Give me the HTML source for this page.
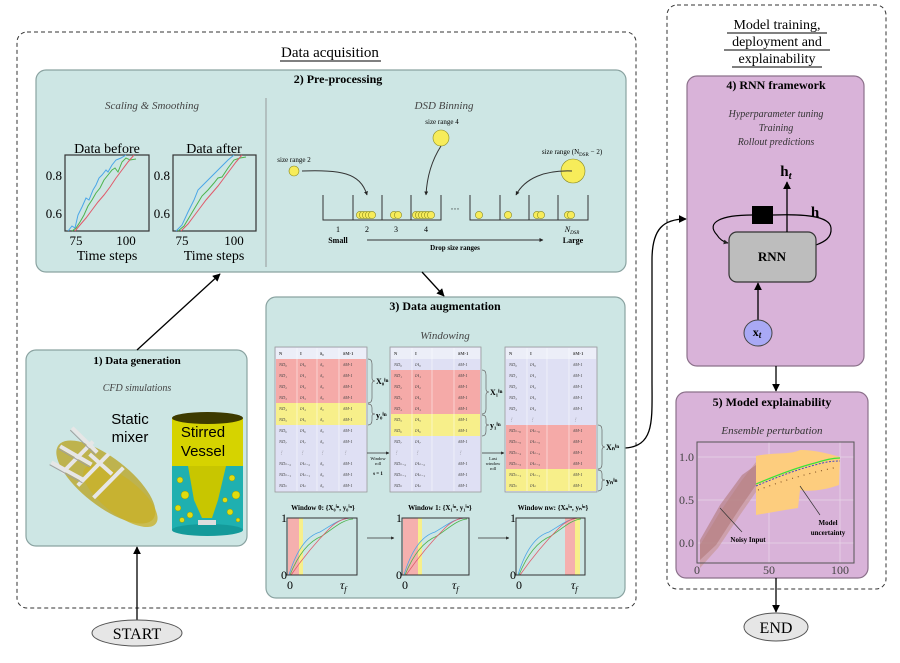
<!DOCTYPE html>
<html><head><meta charset="utf-8"><style>
html,body{margin:0;padding:0;background:#fff;}
svg{display:block;font-family:"Liberation Serif",serif;}
.b{font-weight:bold;}
.i{font-style:italic;}
</style></head><body>
<svg width="900" height="663" viewBox="0 0 900 663" xmlns="http://www.w3.org/2000/svg">
<defs>
<marker id="ar" viewBox="0 0 10 10" refX="9" refY="5" markerWidth="6" markerHeight="6" orient="auto-start-reverse"><path d="M0,0 L10,5 L0,10 z" fill="#000"/></marker>
<marker id="as" viewBox="0 0 10 10" refX="9" refY="5" markerWidth="4" markerHeight="4" orient="auto"><path d="M0,0 L10,5 L0,10 z" fill="#222"/></marker>
</defs>

<rect x="17" y="32" width="619" height="576" rx="10" fill="none" stroke="#333" stroke-width="1" stroke-dasharray="4,3"/>
<rect x="667" y="5" width="219" height="584" rx="10" fill="none" stroke="#333" stroke-width="1" stroke-dasharray="4,3"/>

<text x="330" y="57" font-size="15" text-anchor="middle">Data acquisition</text>
<line x1="280" y1="61" x2="381" y2="61" stroke="#000" stroke-width="1"/>

<text x="777" y="29" font-size="14" text-anchor="middle">Model training,</text>
<line x1="727" y1="33" x2="827" y2="33" stroke="#000"/>
<text x="777" y="46" font-size="14" text-anchor="middle">deployment and</text>
<line x1="724" y1="50" x2="830" y2="50" stroke="#000"/>
<text x="777" y="63" font-size="14" text-anchor="middle">explainability</text>
<line x1="732" y1="67" x2="822" y2="67" stroke="#000"/>

<!-- Pre-processing -->
<rect x="36" y="70" width="590" height="202" rx="10" fill="#cde6e4" stroke="#8aa3a1" stroke-width="1.2"/>
<text x="338" y="83" font-size="12" class="b" text-anchor="middle">2) Pre-processing</text>
<line x1="266" y1="98" x2="266" y2="267" stroke="#888" stroke-width="0.8"/>
<text x="152" y="109" font-size="11" class="i" text-anchor="middle" fill="#444">Scaling &amp; Smoothing</text>
<text x="444" y="109" font-size="11" class="i" text-anchor="middle" fill="#444">DSD Binning</text>

<text x="107" y="153" font-size="14" text-anchor="middle">Data before</text>
<rect x="65" y="155" width="84" height="76" fill="none" stroke="#333" stroke-width="1.2"/>
<path d="M68,231 L72,226 L75,228 L78,215 L82,207 L86,198 L89,200 L93,190 L96,185 L99,178 L102,175 L106,170 L108,172 L112,165 L116,160 L121,158 L126,155" fill="none" stroke="#4aa6e8" stroke-width="1"/>
<path d="M72,231 L76,228 L80,222 L84,215 L88,206 L92,200 L96,193 L100,188 L104,180 L108,175 L112,170 L115,168 L118,172 L122,162 L126,158 L130,160 L136,159" fill="none" stroke="#4db34d" stroke-width="1"/>
<path d="M75,231 L80,225 L86,218 L92,210 L98,202 L104,195 L110,187 L116,178 L122,170 L128,162 L134,155" fill="none" stroke="#e05a6a" stroke-width="1"/>
<text x="62" y="180" font-size="13" text-anchor="end">0.8</text>
<text x="62" y="218" font-size="13" text-anchor="end">0.6</text>
<text x="76" y="245" font-size="13" text-anchor="middle">75</text>
<text x="126" y="245" font-size="13" text-anchor="middle">100</text>
<text x="107" y="260" font-size="14" text-anchor="middle">Time steps</text>
<text x="214" y="153" font-size="14" text-anchor="middle">Data after</text>
<rect x="173" y="155" width="83" height="76" fill="none" stroke="#333" stroke-width="1.2"/>
<path d="M176,231 L182,225 L188,212 L194,200 L198,190 L204,184 L210,178 L216,172 L222,166 L228,160 L234,155" fill="none" stroke="#4aa6e8" stroke-width="1"/>
<path d="M178,231 L184,226 L190,216 L196,206 L202,196 L208,190 L214,183 L218,178 L222,177 L228,168 L234,160 L240,158 L246,157" fill="none" stroke="#4db34d" stroke-width="1"/>
<path d="M181,231 L188,224 L194,216 L200,208 L206,200 L212,193 L218,186 L224,178 L230,170 L236,162 L242,155" fill="none" stroke="#e05a6a" stroke-width="1"/>
<text x="170" y="180" font-size="13" text-anchor="end">0.8</text>
<text x="170" y="218" font-size="13" text-anchor="end">0.6</text>
<text x="182" y="245" font-size="13" text-anchor="middle">75</text>
<text x="234" y="245" font-size="13" text-anchor="middle">100</text>
<text x="214" y="260" font-size="14" text-anchor="middle">Time steps</text>

<g stroke="#333" stroke-width="1" fill="none">
<path d="M323,195 V220 H441 V195 M353,195 V220 M382,195 V220 M411,195 V220"/>
<path d="M470,195 V220 H588 V195 M500,195 V220 M529,195 V220 M558,195 V220"/>
</g>
<text x="455" y="212" font-size="9" text-anchor="middle">···</text>
<g fill="#f7ec5a" stroke="#8a8a20" stroke-width="0.6">
<circle cx="360" cy="215" r="3.6"/><circle cx="363" cy="215" r="3.6"/><circle cx="366" cy="215" r="3.6"/><circle cx="369" cy="215" r="3.6"/><circle cx="372" cy="215" r="3.6"/>
<circle cx="394" cy="215" r="3.6"/><circle cx="398" cy="215" r="3.6"/>
<circle cx="416" cy="215" r="3.6"/><circle cx="419" cy="215" r="3.6"/><circle cx="422" cy="215" r="3.6"/><circle cx="425" cy="215" r="3.6"/><circle cx="428" cy="215" r="3.6"/><circle cx="431" cy="215" r="3.6"/>
<circle cx="479" cy="215" r="3.6"/><circle cx="508" cy="215" r="3.6"/>
<circle cx="537" cy="215" r="3.6"/><circle cx="541" cy="215" r="3.6"/>
<circle cx="568" cy="215" r="3.6"/><circle cx="571" cy="215" r="3.6"/>
<circle cx="294" cy="171" r="5"/>
<circle cx="441" cy="138" r="8"/>
<circle cx="573" cy="171" r="12"/>
</g>
<text x="294" y="162" font-size="7" text-anchor="middle">size range 2</text>
<text x="442" y="124" font-size="7" text-anchor="middle">size range 4</text>
<text x="572" y="154" font-size="7" text-anchor="middle">size range (N<tspan font-size="5" dy="2">DSR</tspan><tspan dy="-2"> − 2)</tspan></text>
<g fill="none" stroke="#333" stroke-width="1" marker-end="url(#as)">
<path d="M302,171 C340,170 360,172 367,195"/>
<path d="M441,146 C432,160 427,175 426,195"/>
<path d="M572,171 C545,170 525,178 516,195"/>
</g>
<g font-size="8" text-anchor="middle">
<text x="338" y="232">1</text><text x="367" y="232">2</text><text x="396" y="232">3</text><text x="426" y="232">4</text>
<text x="572" y="232" class="i">N<tspan font-size="5" dy="2">DSR</tspan></text>
<text x="338" y="243" class="b">Small</text><text x="573" y="243" class="b">Large</text>
<text x="455" y="250" class="b" font-size="7">Drop size ranges</text>
</g>
<line x1="367" y1="240" x2="543" y2="240" stroke="#333" marker-end="url(#as)"/>

<!-- Data generation -->
<rect x="26" y="350" width="221" height="196" rx="10" fill="#cde6e4" stroke="#8aa3a1" stroke-width="1.2"/>
<text x="137" y="364" font-size="11" class="b" text-anchor="middle">1) Data generation</text>
<text x="137" y="391" font-size="10" class="i" text-anchor="middle" fill="#444">CFD simulations</text>
<g transform="rotate(38 105 475)">
<ellipse cx="110" cy="480" rx="60" ry="24" fill="#b8a21c" opacity="0.75"/>
<ellipse cx="130" cy="482" rx="45" ry="18" fill="#c9b22a" opacity="0.8"/>
<g stroke="#e6e6e6" stroke-width="4" fill="none">
<path d="M50,458 L85,462 M52,480 L88,475 M55,498 L92,492 M75,456 L70,500 M95,456 L90,500 M115,458 L110,500 M80,468 L110,470"/>
</g>
<g stroke="#a0a0a0" stroke-width="1" fill="none">
<path d="M50,461 L85,465 M52,483 L88,478 M55,501 L92,495"/>
</g>
</g>
<text x="130" y="424" font-size="15" font-family="Liberation Sans, sans-serif" text-anchor="middle">Static</text>
<text x="130" y="442" font-size="15" font-family="Liberation Sans, sans-serif" text-anchor="middle">mixer</text>
<rect x="172" y="418" width="71" height="112" fill="#d6d300"/>
<rect x="172" y="466" width="71" height="64" fill="#1fb0b0"/>
<path d="M188,466 L194,500 L202,518 L212,518 L218,500 L226,466 z" fill="#c8c600"/>
<g fill="#e0dc10" stroke="#8a8a00" stroke-width="0.4">
<circle cx="180" cy="480" r="3"/><circle cx="185" cy="495" r="4"/><circle cx="178" cy="508" r="3"/><circle cx="232" cy="478" r="3"/><circle cx="236" cy="495" r="4"/><circle cx="230" cy="512" r="3"/><circle cx="190" cy="515" r="3"/><circle cx="225" cy="500" r="2.5"/><circle cx="182" cy="520" r="2.5"/><circle cx="238" cy="520" r="2"/>
</g>
<ellipse cx="207.5" cy="418" rx="35.5" ry="6" fill="#3d3a00"/>
<ellipse cx="207.5" cy="530" rx="35.5" ry="6" fill="#149a9a"/>
<rect x="198" y="520" width="18" height="5" fill="#ddd"/>
<text x="203" y="437" font-size="15" font-family="Liberation Sans, sans-serif" text-anchor="middle">Stirred</text>
<text x="203" y="456" font-size="15" font-family="Liberation Sans, sans-serif" text-anchor="middle">Vessel</text>

<line x1="137" y1="620" x2="137" y2="547" stroke="#000" stroke-width="1.3" marker-end="url(#ar)"/>
<ellipse cx="137" cy="633" rx="45" ry="13" fill="#e6e6e6" stroke="#555"/>
<text x="137" y="639" font-size="16" text-anchor="middle">START</text>

<line x1="137" y1="350" x2="220" y2="274" stroke="#000" stroke-width="1.3" marker-end="url(#ar)"/>
<line x1="422" y1="272" x2="444" y2="296" stroke="#000" stroke-width="1.3" marker-end="url(#ar)"/>
<path d="M625,448 C655,446 652,420 652,380 L652,260 C652,228 664,219 686,219" fill="none" stroke="#000" stroke-width="1.3" marker-end="url(#ar)"/>

<!-- Data augmentation -->
<rect x="266" y="297" width="359" height="301" rx="10" fill="#cde6e4" stroke="#8aa3a1" stroke-width="1.2"/>
<text x="445" y="310" font-size="12" class="b" text-anchor="middle">3) Data augmentation</text>
<text x="445" y="339" font-size="11" class="i" text-anchor="middle" fill="#444">Windowing</text>

<g stroke="#999" stroke-width="0.8">
<rect x="275" y="347" width="92" height="145" fill="#dfe0f4"/>
<rect x="390" y="347" width="91" height="145" fill="#dfe0f4"/>
<rect x="505" y="347" width="92" height="145" fill="#dfe0f4"/>
</g>
<g stroke="none">
<rect x="276" y="348" width="90" height="11" fill="#eceef8"/>
<rect x="391" y="348" width="89" height="11" fill="#eceef8"/>
<rect x="506" y="348" width="90" height="11" fill="#eceef8"/>
<rect x="276" y="359" width="90" height="44" fill="#f5aaa8"/>
<rect x="276" y="403" width="90" height="22" fill="#f7ef8a"/>
<rect x="391" y="370" width="89" height="44" fill="#f5aaa8"/>
<rect x="391" y="414" width="89" height="22" fill="#f7ef8a"/>
<rect x="506" y="425" width="90" height="44" fill="#f5aaa8"/>
<rect x="506" y="469" width="90" height="22" fill="#f7ef8a"/>
</g>
<g stroke="#fff" stroke-width="0.6" opacity="0.8">
<path d="M297,348 V491 M317,348 V491 M339,348 V491 M412,348 V491 M432,348 V491 M454,348 V491 M527,348 V491 M547,348 V491 M569,348 V491"/>
</g>
<g font-size="4.5" fill="#444" font-style="italic">
<g transform="translate(279,0)">
<text y="355" font-weight="bold" font-style="normal">N</text><text y="366">ND₀</text><text y="377">ND₁</text><text y="388">ND₂</text><text y="399">ND₃</text><text y="410">ND₄</text><text y="421">ND₅</text><text y="432">ND₆</text><text y="443">ND₇</text><text y="454">⋮</text><text y="465">NDₙ₋₂</text><text y="476">NDₙ₋₁</text><text y="487">NDₙ</text>
</g>
<g transform="translate(300,0)">
<text y="355" font-weight="bold" font-style="normal">I</text><text y="366">IA₀</text><text y="377">IA₁</text><text y="388">IA₂</text><text y="399">IA₃</text><text y="410">IA₄</text><text y="421">IA₅</text><text y="432">IA₆</text><text y="443">IA₇</text><text y="454">⋮</text><text y="465">IAₙ₋₂</text><text y="476">IAₙ₋₁</text><text y="487">IAₙ</text>
</g>
<g transform="translate(320,0)">
<text y="355" font-weight="bold" font-style="normal">δ₀</text><text y="366">δ₀</text><text y="377">δ₀</text><text y="388">δ₀</text><text y="399">δ₀</text><text y="410">δ₀</text><text y="421">δ₀</text><text y="432">δ₀</text><text y="443">δ₀</text><text y="454">⋮</text><text y="465">δ₀</text><text y="476">δ₀</text><text y="487">δ₀</text>
</g>
<g transform="translate(343,0)">
<text y="355" font-weight="bold" font-style="normal">δM-1</text><text y="366">δM-1</text><text y="377">δM-1</text><text y="388">δM-1</text><text y="399">δM-1</text><text y="410">δM-1</text><text y="421">δM-1</text><text y="432">δM-1</text><text y="443">δM-1</text><text y="454">⋮</text><text y="465">δM-1</text><text y="476">δM-1</text><text y="487">δM-1</text>
</g>
<g transform="translate(394,0)">
<text y="355" font-weight="bold" font-style="normal">N</text><text y="366">ND₀</text><text y="377">ND₁</text><text y="388">ND₂</text><text y="399">ND₃</text><text y="410">ND₄</text><text y="421">ND₅</text><text y="432">ND₆</text><text y="443">ND₇</text><text y="454">⋮</text><text y="465">NDₙ₋₂</text><text y="476">NDₙ₋₁</text><text y="487">NDₙ</text>
</g>
<g transform="translate(415,0)">
<text y="355" font-weight="bold" font-style="normal">I</text><text y="366">IA₀</text><text y="377">IA₁</text><text y="388">IA₂</text><text y="399">IA₃</text><text y="410">IA₄</text><text y="421">IA₅</text><text y="432">IA₆</text><text y="443">IA₇</text><text y="454">⋮</text><text y="465">IAₙ₋₂</text><text y="476">IAₙ₋₁</text><text y="487">IAₙ</text>
</g>
<g transform="translate(458,0)">
<text y="355" font-weight="bold" font-style="normal">δM-1</text><text y="366">δM-1</text><text y="377">δM-1</text><text y="388">δM-1</text><text y="399">δM-1</text><text y="410">δM-1</text><text y="421">δM-1</text><text y="432">δM-1</text><text y="443">δM-1</text><text y="454">⋮</text><text y="465">δM-1</text><text y="476">δM-1</text><text y="487">δM-1</text>
</g>
<g transform="translate(509,0)">
<text y="355" font-weight="bold" font-style="normal">N</text><text y="366">ND₀</text><text y="377">ND₁</text><text y="388">ND₂</text><text y="399">ND₃</text><text y="410">ND₄</text><text y="421">⋮</text><text y="432">NDₙ₋₆</text><text y="443">NDₙ₋₅</text><text y="454">NDₙ₋₄</text><text y="465">NDₙ₋₃</text><text y="476">NDₙ₋₁</text><text y="487">NDₙ</text>
</g>
<g transform="translate(530,0)">
<text y="355" font-weight="bold" font-style="normal">I</text><text y="366">IA₀</text><text y="377">IA₁</text><text y="388">IA₂</text><text y="399">IA₃</text><text y="410">IA₄</text><text y="421">⋮</text><text y="432">IAₙ₋₆</text><text y="443">IAₙ₋₅</text><text y="454">IAₙ₋₄</text><text y="465">IAₙ₋₃</text><text y="476">IAₙ₋₁</text><text y="487">IAₙ</text>
</g>
<g transform="translate(573,0)">
<text y="355" font-weight="bold" font-style="normal">δM-1</text><text y="366">δM-1</text><text y="377">δM-1</text><text y="388">δM-1</text><text y="399">δM-1</text><text y="410">δM-1</text><text y="421">⋮</text><text y="432">δM-1</text><text y="443">δM-1</text><text y="454">δM-1</text><text y="465">δM-1</text><text y="476">δM-1</text><text y="487">δM-1</text>
</g>
</g>
<g fill="none" stroke="#666" stroke-width="0.7">
<path d="M368,359 Q372,359 372,364 V378 Q372,381 375,381 Q372,381 372,384 V398 Q372,403 368,403"/>
<path d="M368,404 Q372,404 372,408 V412 Q372,414 375,414 Q372,414 372,416 V420 Q372,425 368,425"/>
<path d="M482,370 Q486,370 486,375 V389 Q486,392 489,392 Q486,392 486,395 V409 Q486,414 482,414"/>
<path d="M482,415 Q486,415 486,419 V423 Q486,425 489,425 Q486,425 486,427 V431 Q486,436 482,436"/>
<path d="M598,425 Q602,425 602,430 V444 Q602,447 605,447 Q602,447 602,450 V464 Q602,469 598,469"/>
<path d="M598,470 Q602,470 602,474 V478 Q602,480 605,480 Q602,480 602,482 V486 Q602,491 598,491"/>
</g>
<g font-size="8" class="b">
<text x="376" y="384">X₀ⁱⁿ</text><text x="376" y="418">y₀ⁱⁿ</text>
<text x="490" y="395">X₁ⁱⁿ</text><text x="490" y="428">y₁ⁱⁿ</text>
<text x="606" y="450">Xₙⁱⁿ</text><text x="606" y="484">yₙⁱⁿ</text>
</g>
<line x1="367" y1="453" x2="389" y2="453" stroke="#333" stroke-width="0.8" marker-end="url(#as)"/>
<line x1="482" y1="453" x2="504" y2="453" stroke="#333" stroke-width="0.8" marker-end="url(#as)"/>
<g font-size="4.5" text-anchor="middle">
<text x="378" y="460">Window</text><text x="378" y="465">roll</text><text x="378" y="475" font-size="5" font-weight="bold">s = 1</text>
<text x="493" y="460">Last</text><text x="493" y="465">window</text><text x="493" y="470">roll</text>
</g>

<g font-size="7" class="b" text-anchor="middle">
<text x="323" y="510">Window 0: {X₀ⁱⁿ, y₀ⁱⁿ}</text>
<text x="440" y="510">Window 1: {X₁ⁱⁿ, y₁ⁱⁿ}</text>
<text x="553" y="510">Window nw: {Xₙⁱⁿ, yₙⁱⁿ}</text>
</g>
<g>
<rect x="288" y="518" width="11" height="57" fill="#f5b0ae"/><rect x="299" y="518" width="4" height="57" fill="#f7ef8a"/>
<rect x="403" y="518" width="15" height="57" fill="#f5b0ae"/><rect x="418" y="518" width="4" height="57" fill="#f7ef8a"/>
<rect x="565" y="518" width="10" height="57" fill="#f5b0ae"/><rect x="575" y="518" width="5" height="57" fill="#f7ef8a"/>
</g>
<g fill="none" stroke-width="0.8">
<path d="M289,575 C298,545 310,535 320,532 C332,525 340,518 352,518" stroke="#4aa6e8"/>
<path d="M290,575 C300,550 312,540 322,536 C334,528 342,520 353,519" stroke="#4db34d"/>
<path d="M291,575 C305,555 318,540 330,528 C338,520 345,518 352,518" stroke="#e05a6a"/>
<path d="M404,575 C413,545 425,535 435,532 C447,525 455,518 466,518" stroke="#4aa6e8"/>
<path d="M405,575 C415,550 427,540 437,536 C449,528 457,520 467,519" stroke="#4db34d"/>
<path d="M406,575 C420,555 433,540 445,528 C453,520 460,518 466,518" stroke="#e05a6a"/>
<path d="M518,575 C527,545 539,535 549,532 C561,525 569,518 580,518" stroke="#4aa6e8"/>
<path d="M519,575 C529,550 541,540 551,536 C563,528 571,520 581,519" stroke="#4db34d"/>
<path d="M520,575 C534,555 547,540 559,528 C567,520 574,518 580,518" stroke="#e05a6a"/>
</g>
<g fill="none" stroke="#333" stroke-width="1">
<rect x="287" y="518" width="70" height="57"/>
<rect x="402" y="518" width="67" height="57"/>
<rect x="516" y="518" width="69" height="57"/>
</g>
<g font-size="12" text-anchor="end">
<text x="287" y="522">1</text><text x="287" y="579">0</text>
<text x="402" y="522">1</text><text x="402" y="579">0</text>
<text x="516" y="522">1</text><text x="516" y="579">0</text>
</g>
<g font-size="12">
<text x="287" y="589">0</text><text x="340" y="589" class="i">τ<tspan font-size="8" dy="3">f</tspan></text>
<text x="402" y="589">0</text><text x="452" y="589" class="i">τ<tspan font-size="8" dy="3">f</tspan></text>
<text x="516" y="589">0</text><text x="571" y="589" class="i">τ<tspan font-size="8" dy="3">f</tspan></text>
</g>
<line x1="367" y1="538" x2="394" y2="538" stroke="#333" stroke-width="0.8" marker-end="url(#as)"/>
<line x1="478" y1="538" x2="509" y2="538" stroke="#333" stroke-width="0.8" marker-end="url(#as)"/>

<!-- RNN framework -->
<rect x="687" y="76" width="177" height="290" rx="10" fill="#d9b3d9" stroke="#8c718b" stroke-width="1.2"/>
<text x="776" y="89" font-size="12" class="b" text-anchor="middle">4) RNN framework</text>
<g font-size="10" class="i" text-anchor="middle" fill="#333">
<text x="776" y="117">Hyperparameter tuning</text>
<text x="776" y="131">Training</text>
<text x="776" y="145">Rollout predictions</text>
</g>
<path d="M752,215 C722,215 705,222 717,235 C720,240 724,242 728,243" fill="none" stroke="#000" stroke-width="1.2" marker-end="url(#as)"/>
<path d="M773,215 C800,214 830,215 831,228 C832,238 824,242 816,245" fill="none" stroke="#000" stroke-width="1.2"/>
<rect x="752" y="206" width="21" height="18" fill="#000"/>
<rect x="729" y="232" width="87" height="50" rx="8" fill="#bdbdbd" stroke="#333" stroke-width="1.2"/>
<text x="772" y="261" font-size="13" class="b" text-anchor="middle">RNN</text>
<line x1="787" y1="232" x2="787" y2="182" stroke="#000" stroke-width="1.3" marker-end="url(#ar)"/>
<text x="786" y="176" font-size="15" class="b" text-anchor="middle">h<tspan font-size="11" dy="3" class="i">t</tspan></text>
<text x="815" y="217" font-size="15" class="b" text-anchor="middle">h</text>
<line x1="758" y1="320" x2="758" y2="283" stroke="#000" stroke-width="1.3" marker-end="url(#ar)"/>
<ellipse cx="758" cy="333" rx="14" ry="13" fill="#a9a9f5" stroke="#444"/>
<text x="757" y="336" font-size="12" class="b" text-anchor="middle">x<tspan font-size="9" dy="2" class="i">t</tspan></text>

<line x1="776" y1="366" x2="776" y2="391" stroke="#000" stroke-width="1.3" marker-end="url(#ar)"/>

<!-- Explainability -->
<rect x="676" y="392" width="192" height="186" rx="10" fill="#d9b3d9" stroke="#8c718b" stroke-width="1.2"/>
<text x="772" y="406" font-size="12" class="b" text-anchor="middle">5) Model explainability</text>
<text x="772" y="434" font-size="11" class="i" text-anchor="middle" fill="#333">Ensemble perturbation</text>
<g stroke="#e8d5e8" stroke-width="0.8"><path d="M698,457 H854 M698,500 H854 M698,543 H854 M769,442 V563 M840,442 V563"/></g>
<path d="M700,545 L720,512 L742,480 L756,462 L756,492 L740,515 L718,548 L700,568 z" fill="#c89898" opacity="0.7"/>
<path d="M700,540 L720,505 L742,475 L756,465 L756,485 L740,508 L716,545 L700,560 z" fill="#b07878" opacity="0.6"/>
<path d="M756,456 C775,452 790,455 800,450 C815,450 830,454 840,457 L839,485 C825,490 810,492 800,490 L798,508 L785,510 L756,515 z" fill="#fdcd7e"/>
<path d="M756,484 C775,476 795,468 815,463 C825,460 832,458 840,458" fill="none" stroke="#3ae23a" stroke-width="1.2"/>
<path d="M756,486 C775,478 795,470 815,465 C825,462 832,461 840,461" fill="none" stroke="#4a4ac0" stroke-width="1" stroke-dasharray="2,1.5"/>
<path d="M758,490 C780,482 800,475 838,467" fill="none" stroke="#8a5a2a" stroke-width="1.2" stroke-dasharray="1,5"/>
<rect x="697" y="442" width="157" height="121" fill="none" stroke="#555" stroke-width="1"/>
<g font-size="12" fill="#444">
<text x="694" y="461" text-anchor="end">1.0</text><text x="694" y="504" text-anchor="end">0.5</text><text x="694" y="547" text-anchor="end">0.0</text>
<text x="697" y="574" text-anchor="middle">0</text><text x="769" y="574" text-anchor="middle">50</text><text x="840" y="574" text-anchor="middle">100</text>
</g>
<line x1="720" y1="508" x2="742" y2="532" stroke="#333" stroke-width="0.7"/>
<line x1="800" y1="486" x2="820" y2="515" stroke="#333" stroke-width="0.7"/>
<g font-size="7" class="b" text-anchor="middle">
<text x="748" y="542">Noisy Input</text>
<text x="828" y="525">Model</text><text x="828" y="535">uncertainty</text>
</g>

<line x1="776" y1="578" x2="776" y2="612" stroke="#000" stroke-width="1.3" marker-end="url(#ar)"/>
<ellipse cx="776" cy="627" rx="32" ry="14" fill="#e6e6e6" stroke="#555"/>
<text x="776" y="633" font-size="16" text-anchor="middle">END</text>
</svg>
</body></html>
